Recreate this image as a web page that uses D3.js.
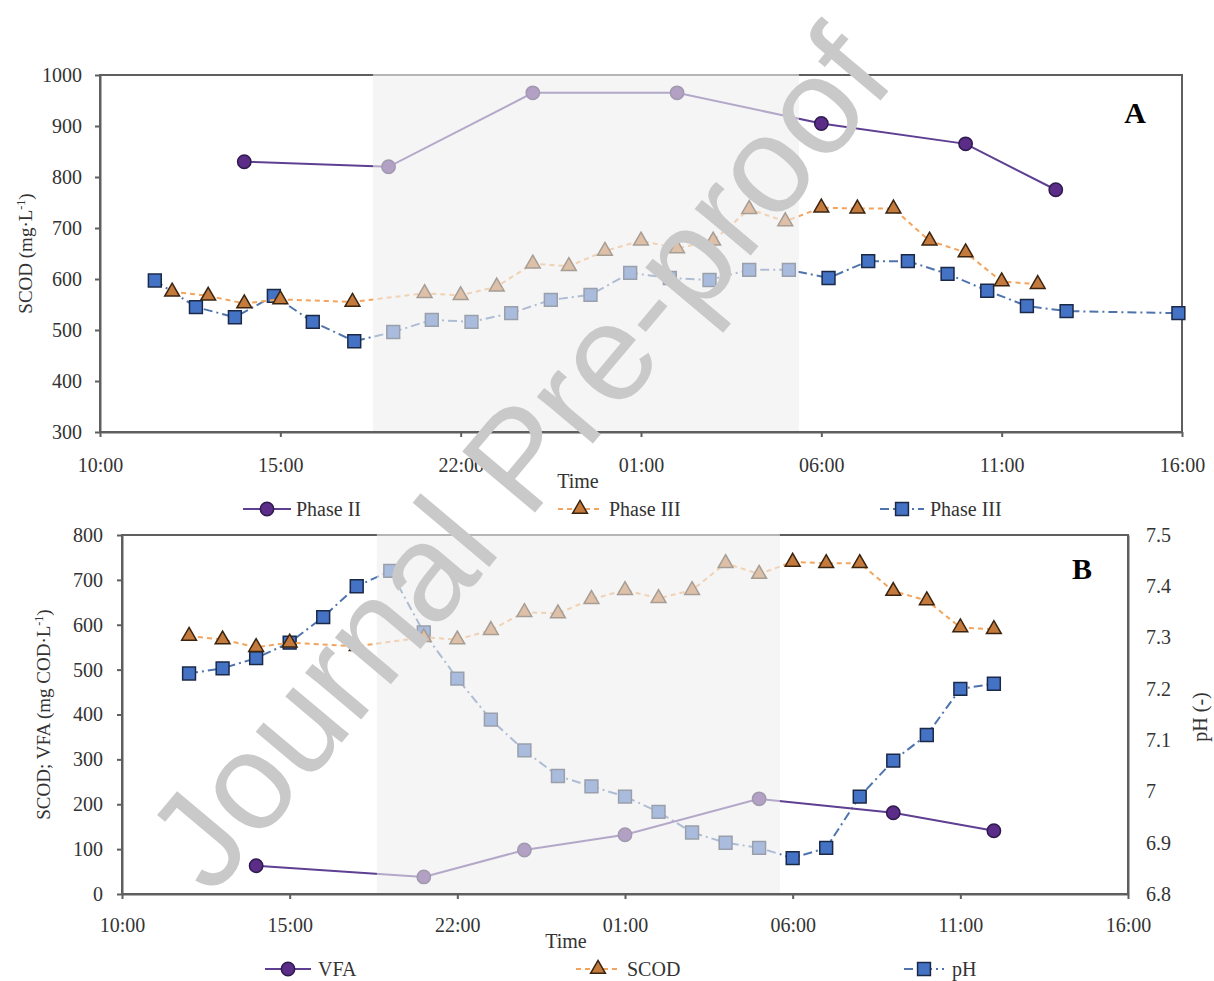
<!DOCTYPE html>
<html>
<head>
<meta charset="utf-8">
<script src="https://cdn.jsdelivr.net/npm/d3@7"></script>
<style>
  body { margin: 0; background: #fff; }
  text { font-family: "Liberation Serif", "Times New Roman", serif; }
</style>
</head>
<body>
<div class="chart"></div>
<script>
// time axis: hours after 10:00 of day 1, labels as printed on the figure
var tickHours = [0, 5, 10, 15, 20, 25, 30];
var tickLabels = ["10:00", "15:00", "22:00", "01:00", "06:00", "11:00", "16:00"];

// panel A
var phase2Hours = [4, 8, 12, 16, 20, 24, 26.5];
var phase2Scod = [830, 820, 965, 965, 905, 865, 775];
var triHours = [2, 3, 4, 5, 7, 9, 10, 11, 12, 13, 14, 15, 16, 17, 18, 19, 20, 21, 22, 23, 24, 25, 26];
var phase3ScodA = [575, 567, 552, 560, 555, 572, 568, 585, 630, 625, 655, 675, 660, 675, 737, 713, 740, 738, 738, 675, 652, 595, 590];
var sqHoursA = [1.52, 2.66, 3.74, 4.82, 5.9, 7.05, 8.13, 9.2, 10.3, 11.4, 12.5, 13.6, 14.7, 15.8, 16.9, 18.0, 19.1, 20.2, 21.3, 22.4, 23.5, 24.6, 25.7, 26.8, 29.9];
var phase3SqA = [597, 545, 525, 567, 516, 478, 496, 520, 516, 533, 559, 569, 612, 602, 598, 618, 618, 602, 635, 635, 610, 577, 547, 537, 533];
var yTicksA = [300, 400, 500, 600, 700, 800, 900, 1000];
var shadeA = [7.57, 19.38];

// panel B
var vfaHours = [4, 9, 12, 15, 19, 23, 26];
var vfaB = [63, 38, 98, 132, 212, 181, 141];
var scodB = [575, 567, 550, 560, 552, 572, 567, 588, 628, 625, 657, 677, 659, 677, 737, 713, 740, 737, 737, 675, 654, 594, 590];
var phHours = [2, 3, 4, 5, 6, 7, 8, 9, 10, 11, 12, 13, 14, 15, 16, 17, 18, 19, 20, 21, 22, 23, 24, 25, 26];
var phB = [7.23, 7.24, 7.26, 7.29, 7.34, 7.40, 7.43, 7.31, 7.22, 7.14, 7.08, 7.03, 7.01, 6.99, 6.96, 6.92, 6.90, 6.89, 6.87, 6.89, 6.99, 7.06, 7.11, 7.20, 7.21];
var yTicksB = [0, 100, 200, 300, 400, 500, 600, 700, 800];
var phTicks = [6.8, 6.9, 7, 7.1, 7.2, 7.3, 7.4, 7.5];
var shadeB = [7.6, 19.62];

var svgWidth = 1214;
var svgHeight = 981;

var svg = d3.select(".chart")
  .append("svg")
  .attr("width", svgWidth)
  .attr("height", svgHeight);

// series looks
var styles = {
  circle: { line: "#5e3f92", dash: null, fill: "#5b2d88", stroke: "#2f1a4d", symbol: d3.symbolCircle, size: 140 },
  tri: { line: "#f2a55e", dash: "5,4", fill: "#c47a3c", stroke: "#3a2410", symbol: d3.symbolTriangle, size: 95 },
  square: { line: "#4f74ad", dash: "9,4,2,4", fill: "#4472c4", stroke: "#1b2947", symbol: d3.symbolSquare, size: 165 }
};

var axisColor = "#5f5f5f";
var textColor = "#333333";

function drawSeries(g, x, y, hours, vals, st) {
  var pts = hours.map(function(h, i) { return [x(h), y(vals[i])]; });
  g.append("path")
    .attr("d", d3.line()(pts))
    .attr("fill", "none")
    .attr("stroke", st.line)
    .attr("stroke-width", 2)
    .attr("stroke-dasharray", st.dash);
  g.selectAll(null)
    .data(pts)
    .enter()
    .append("path")
    .attr("d", d3.symbol().type(st.symbol).size(st.size))
    .attr("transform", d => `translate(${d[0]},${d[1]})`)
    .attr("fill", st.fill)
    .attr("stroke", st.stroke)
    .attr("stroke-width", 1.5);
}

function styleAxis(sel) {
  sel.selectAll("path.domain").attr("stroke", axisColor).attr("stroke-width", 2);
  sel.selectAll(".tick line").attr("stroke", axisColor).attr("stroke-width", 2);
  sel.selectAll(".tick text")
    .attr("fill", textColor)
    .style("font-size", "20px")
    .style("font-family", "'Liberation Serif', serif");
}

function drawLegend(items, cy) {
  items.forEach(function(it) {
    var st = styles[it.kind];
    var lg = svg.append("g");
    lg.append("line")
      .attr("x1", it.x - it.half).attr("x2", it.x + it.half)
      .attr("y1", cy).attr("y2", cy)
      .attr("stroke", st.line)
      .attr("stroke-width", 2)
      .attr("stroke-dasharray", st.dash);
    lg.append("path")
      .attr("d", d3.symbol().type(st.symbol).size(st.size))
      .attr("transform", `translate(${it.x},${cy})`)
      .attr("fill", st.fill)
      .attr("stroke", st.stroke)
      .attr("stroke-width", 1.5);
    lg.append("text")
      .attr("x", it.tx)
      .attr("y", cy + 7)
      .attr("fill", textColor)
      .style("font-size", "20px")
      .text(it.label);
  });
}

// ---------- panel A ----------
var xA = d3.scaleLinear().domain([0, 30]).range([100, 1182]);
var yA = d3.scaleLinear().domain([300, 1000]).range([432, 75]);

var gA = svg.append("g");

gA.append("rect")
  .attr("x", xA(0)).attr("y", yA(1000))
  .attr("width", xA(30) - xA(0)).attr("height", yA(300) - yA(1000))
  .attr("fill", "none")
  .attr("stroke", axisColor)
  .attr("stroke-width", 2);

var xAxisA = gA.append("g")
  .attr("transform", `translate(0,${yA(300)})`)
  .call(d3.axisBottom(xA).tickValues(tickHours).tickFormat((d, i) => tickLabels[i]).tickSize(5).tickSizeOuter(0).tickPadding(21));
styleAxis(xAxisA);

var yAxisA = gA.append("g")
  .attr("transform", `translate(${xA(0)},0)`)
  .call(d3.axisLeft(yA).tickValues(yTicksA).tickFormat(d3.format("d")).tickSize(5).tickSizeOuter(0).tickPadding(13));
styleAxis(yAxisA);

drawSeries(gA, xA, yA, sqHoursA, phase3SqA, styles.square);
drawSeries(gA, xA, yA, triHours, phase3ScodA, styles.tri);
drawSeries(gA, xA, yA, phase2Hours, phase2Scod, styles.circle);

// night period overlay
gA.append("rect")
  .attr("x", xA(shadeA[0])).attr("y", yA(1000) - 1)
  .attr("width", xA(shadeA[1]) - xA(shadeA[0]))
  .attr("height", yA(300) - yA(1000))
  .attr("fill", "#eeeeee")
  .attr("opacity", 0.6);

gA.append("text")
  .attr("transform", `translate(32,${(yA(300) + yA(1000)) / 2}) rotate(-90)`)
  .attr("text-anchor", "middle")
  .attr("fill", textColor)
  .style("font-size", "19px")
  .text("SCOD (mg·L")
  .append("tspan").attr("baseline-shift", "super").style("font-size", "12px").text("-1")
  .select(function() { return this.parentNode; })
  .append("tspan").text(")");

gA.append("text")
  .attr("x", 578).attr("y", 488)
  .attr("text-anchor", "middle")
  .attr("fill", textColor)
  .style("font-size", "20px")
  .text("Time");

gA.append("text")
  .attr("x", 1135).attr("y", 123)
  .attr("text-anchor", "middle")
  .attr("fill", "#000")
  .style("font-size", "30px")
  .style("font-weight", "bold")
  .text("A");

drawLegend([
  { kind: "circle", x: 267, half: 24, tx: 296, label: "Phase II" },
  { kind: "tri", x: 580, half: 22, tx: 609, label: "Phase III" },
  { kind: "square", x: 902, half: 22, tx: 930, label: "Phase III" }
], 509);

// ---------- panel B ----------
var xB = d3.scaleLinear().domain([0, 30]).range([122, 1128]);
var yB = d3.scaleLinear().domain([0, 800]).range([894, 535]);
var yPh = d3.scaleLinear().domain([6.8, 7.5]).range([894, 535]);

var gB = svg.append("g");

gB.append("rect")
  .attr("x", xB(0)).attr("y", yB(800))
  .attr("width", xB(30) - xB(0)).attr("height", yB(0) - yB(800))
  .attr("fill", "none")
  .attr("stroke", axisColor)
  .attr("stroke-width", 2);

var xAxisB = gB.append("g")
  .attr("transform", `translate(0,${yB(0)})`)
  .call(d3.axisBottom(xB).tickValues(tickHours).tickFormat((d, i) => tickLabels[i]).tickSize(5).tickSizeOuter(0).tickPadding(19));
styleAxis(xAxisB);

var yAxisB = gB.append("g")
  .attr("transform", `translate(${xB(0)},0)`)
  .call(d3.axisLeft(yB).tickValues(yTicksB).tickFormat(d3.format("d")).tickSize(5).tickSizeOuter(0).tickPadding(14));
styleAxis(yAxisB);

var phAxis = gB.append("g")
  .attr("transform", `translate(${xB(30)},0)`)
  .call(d3.axisRight(yPh).tickValues(phTicks).tickFormat(d => String(d)).tickSize(0).tickPadding(18));
styleAxis(phAxis);

drawSeries(gB, xB, yPh, phHours, phB, styles.square);
drawSeries(gB, xB, yB, triHours, scodB, styles.tri);
drawSeries(gB, xB, yB, vfaHours, vfaB, styles.circle);

gB.append("rect")
  .attr("x", xB(shadeB[0])).attr("y", yB(800) - 1)
  .attr("width", xB(shadeB[1]) - xB(shadeB[0]))
  .attr("height", yB(0) - yB(800))
  .attr("fill", "#eeeeee")
  .attr("opacity", 0.6);

gB.append("text")
  .attr("transform", `translate(50,${(yB(0) + yB(800)) / 2}) rotate(-90)`)
  .attr("text-anchor", "middle")
  .attr("fill", textColor)
  .style("font-size", "19px")
  .text("SCOD; VFA (mg COD·L")
  .append("tspan").attr("baseline-shift", "super").style("font-size", "12px").text("-1")
  .select(function() { return this.parentNode; })
  .append("tspan").text(")");

gB.append("text")
  .attr("transform", `translate(1207,717) rotate(-90)`)
  .attr("text-anchor", "middle")
  .attr("fill", textColor)
  .style("font-size", "20px")
  .text("pH (-)");

gB.append("text")
  .attr("x", 566).attr("y", 948)
  .attr("text-anchor", "middle")
  .attr("fill", textColor)
  .style("font-size", "20px")
  .text("Time");

gB.append("text")
  .attr("x", 1082).attr("y", 579)
  .attr("text-anchor", "middle")
  .attr("fill", "#000")
  .style("font-size", "30px")
  .style("font-weight", "bold")
  .text("B");

drawLegend([
  { kind: "circle", x: 288, half: 23, tx: 318, label: "VFA" },
  { kind: "tri", x: 598, half: 22, tx: 627, label: "SCOD" },
  { kind: "square", x: 924, half: 20, tx: 952, label: "pH" }
], 969);

// watermark
svg.append("text")
  .attr("transform", "translate(518,458) rotate(-50)")
  .attr("text-anchor", "middle")
  .attr("dominant-baseline", "central")
  .attr("fill", "#c9c9c9")
  .style("font-family", "'Liberation Sans', Arial, sans-serif")
  .style("font-size", "138px")
  .text("Journal Pre-proof");
</script>
</body>
</html>
